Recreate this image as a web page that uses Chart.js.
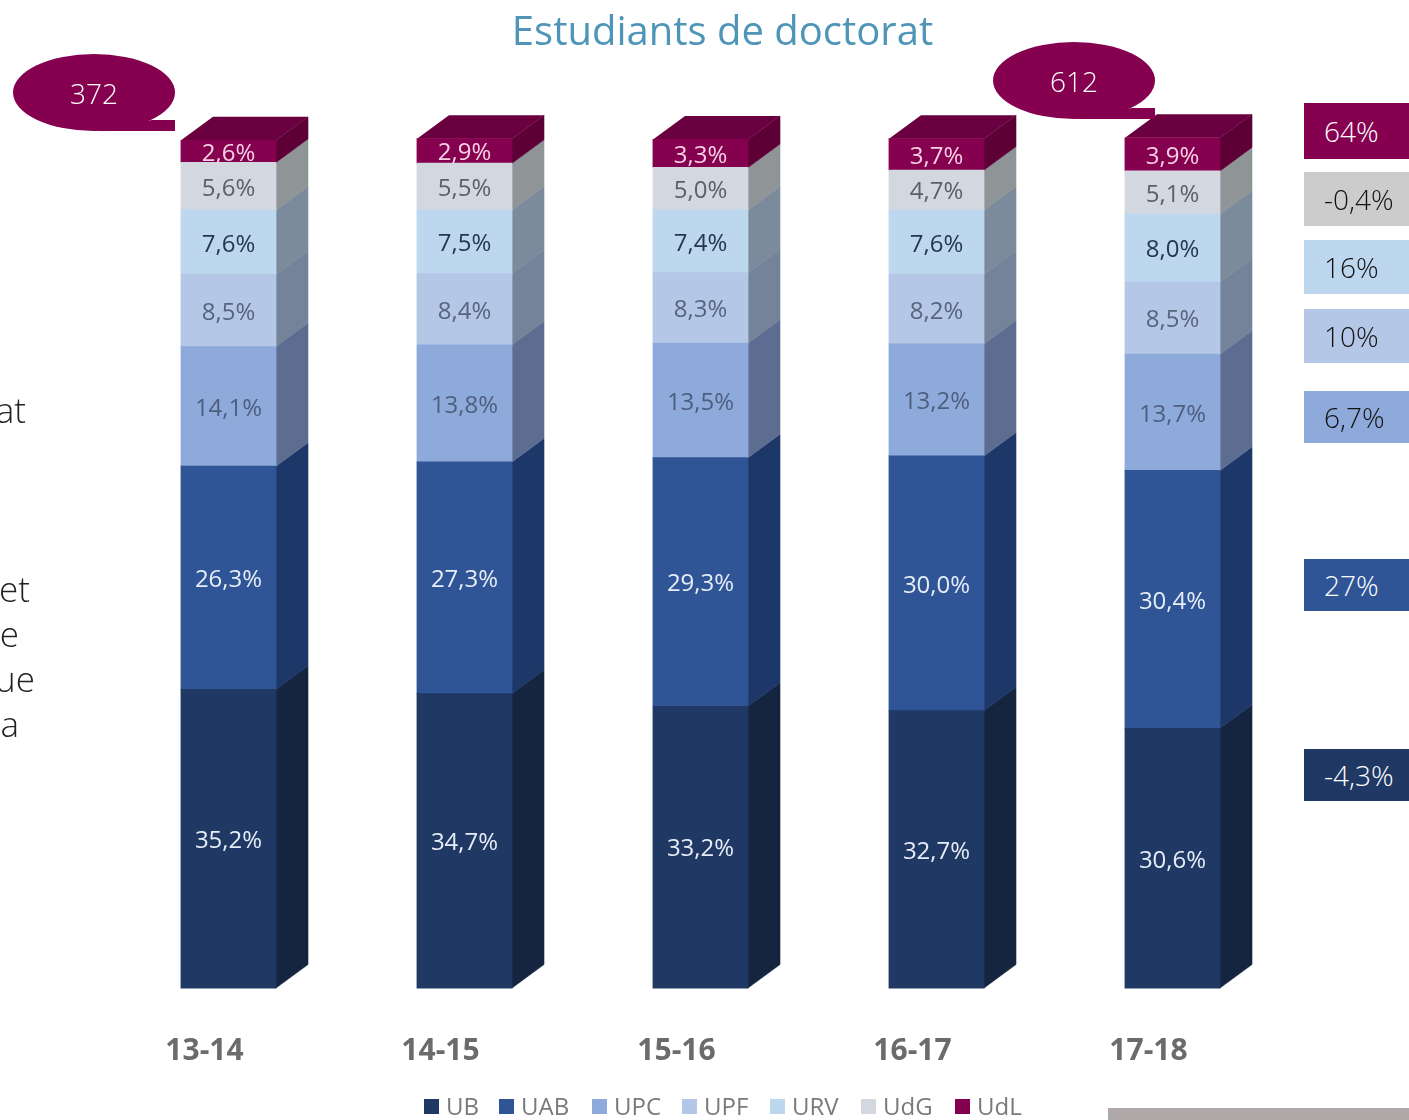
<!DOCTYPE html>
<html lang="ca">
<head>
<meta charset="utf-8">
<title>Estudiants de doctorat</title>
<script src="https://cdn.jsdelivr.net/npm/chart.js@4"></script>
<style>
  html, body { margin: 0; padding: 0; background: #fff; }
  body { position: relative; width: 1409px; height: 1120px; overflow: hidden; font-family: "Open Sans", sans-serif; }
  #chartBox { position: absolute; left: 0; top: 0; width: 1409px; height: 1120px; }
  .title { position: absolute; left: 0; width: 1445px; top: 2px; text-align: center; font-size: 40px; line-height: 56px; color: #4f95b7; }
  .bubble { position: absolute; width: 162px; height: 77px; }
  .bubble svg { position: absolute; left: 0; top: 0; }
  .bubble span { position: absolute; left: 0; width: 162px; top: 20px; text-align: center; font-size: 28px; font-weight: 300; line-height: 38px; color: #fff; }
  .badge { position: absolute; left: 1304px; width: 105px; font-size: 28px; font-weight: 300; color: #111; box-sizing: border-box; padding-left: 20px; }
  .side { position: absolute; font-size: 35px; line-height: 44px; color: #222; font-weight: 300; white-space: nowrap; }
  #legend { position: absolute; top: 1090px; left: 0; height: 32px; }
  #legend div { position: absolute; top: 0; font-size: 24px; line-height: 32px; color: #7a7a7a; white-space: nowrap; }
  #legend i { position: absolute; top: 9px; width: 15px; height: 15px; }
  .footerBar { position: absolute; left: 1108px; top: 1108px; width: 301px; height: 12px; background: #afaaa9; }
</style>
</head>
<body>
<div id="chartBox"><canvas id="chart"></canvas></div>
<div class="title">Estudiants de doctorat</div>
<div id="bubbles"></div>
<div id="badges"></div>
<div id="sideText"></div>
<div id="legend"></div>
<div class="footerBar"></div>
<script>
// Data
const years = ['13-14', '14-15', '15-16', '16-17', '17-18'];
const ub = [35.2, 34.7, 33.2, 32.7, 30.6];
const uab = [26.3, 27.3, 29.3, 30.0, 30.4];
const upc = [14.1, 13.8, 13.5, 13.2, 13.7];
const upf = [8.5, 8.4, 8.3, 8.2, 8.5];
const urv = [7.6, 7.5, 7.4, 7.6, 8.0];
const udg = [5.6, 5.5, 5.0, 4.7, 5.1];
const udl = [2.6, 2.9, 3.3, 3.7, 3.9];

const universities = ['UB', 'UAB', 'UPC', 'UPF', 'URV', 'UdG', 'UdL'];
const seriesValues = [ub, uab, upc, upf, urv, udg, udl];
const frontColors = ['#203864', '#2f5597', '#8eaadb', '#b4c7e7', '#bdd7ee', '#d3d8e0', '#85004f'];
const sideColors = ['#152540', '#1d3868', '#5c6d91', '#748399', '#7c8b9b', '#8f9497', '#5c0036'];
const labelColors = ['#e6edf7', '#e6edf7', '#4d5f7e', '#56657c', '#26384c', '#5b6068', '#f7cfe3'];

const changes = ['64%', '-0,4%', '16%', '10%', '6,7%', '27%', '-4,3%'];
const changeColors = ['#85004f', '#cdcccc', '#bdd7ee', '#b4c7e7', '#8eaadb', '#2f5597', '#203864'];
const changeTextColors = ['#fff', '#111', '#111', '#111', '#111', '#fff', '#fff'];
const changeTops = [103, 172, 240, 309, 391, 559, 749];
const changeHeights = [56, 54, 54, 54, 52, 52, 52];

const totals = [{ text: '372', left: 13, top: 54 }, { text: '612', left: 993, top: 42 }];
const sideFragments = [
  { text: 'at', right: 26, top: 388 },
  { text: 'et', right: 30, top: 567 },
  { text: 'e', right: 19, top: 612 },
  { text: 'ue', right: 35, top: 657 },
  { text: 'a', right: 19, top: 702 }
];
const legendBoxes = [424, 499, 592, 682, 770, 861, 955];

const DEPTH_X = 32;
const DEPTH_Y = 23.5;

function formatPct(v) {
  return v.toFixed(1).replace('.', ',') + '%';
}

// Right faces and top of the blocks, drawn behind the fronts
const depthPlugin = {
  id: 'depth',
  beforeDatasetsDraw(chart) {
    const ctx = chart.ctx;
    ctx.save();
    ctx.lineWidth = 0.6;
    chart.data.datasets.forEach((ds, d) => {
      chart.getDatasetMeta(d).data.forEach(bar => {
        const right = bar.x + bar.width / 2;
        const left = bar.x - bar.width / 2;
        ctx.fillStyle = sideColors[d];
        ctx.strokeStyle = sideColors[d];
        ctx.beginPath();
        ctx.moveTo(right, bar.base);
        ctx.lineTo(right + DEPTH_X, bar.base - DEPTH_Y);
        ctx.lineTo(right + DEPTH_X, bar.y - DEPTH_Y);
        ctx.lineTo(right, bar.y);
        ctx.closePath();
        ctx.fill();
        ctx.stroke();
        if (d === chart.data.datasets.length - 1) {
          ctx.fillStyle = '#6a003f';
          ctx.beginPath();
          ctx.moveTo(left, bar.y);
          ctx.lineTo(left + DEPTH_X, bar.y - DEPTH_Y);
          ctx.lineTo(right + DEPTH_X, bar.y - DEPTH_Y);
          ctx.lineTo(right, bar.y);
          ctx.closePath();
          ctx.fill();
        }
      });
    });
    ctx.restore();
  }
};

// Percent labels centred on each segment
const segmentLabels = {
  id: 'segmentLabels',
  afterDatasetsDraw(chart) {
    const ctx = chart.ctx;
    ctx.save();
    ctx.font = '24px "Open Sans", sans-serif';
    ctx.textAlign = 'center';
    ctx.textBaseline = 'middle';
    chart.data.datasets.forEach((ds, d) => {
      ctx.fillStyle = labelColors[d];
      chart.getDatasetMeta(d).data.forEach((bar, i) => {
        ctx.fillText(formatPct(ds.data[i]), bar.x, (bar.y + bar.base) / 2 + 2.5);
      });
    });
    ctx.restore();
  }
};

function initChart() {
  new Chart(document.getElementById('chart'), {
    type: 'bar',
    data: {
      labels: years,
      datasets: universities.map((name, d) => ({
        label: name,
        data: seriesValues[d],
        backgroundColor: frontColors[d],
        borderWidth: 0,
        inflateAmount: 0.4,
        categoryPercentage: 1,
        barPercentage: 95 / 236,
        clip: false
      }))
    },
    options: {
      responsive: true,
      maintainAspectRatio: false,
      animation: false,
      layout: { padding: { left: 110.5, right: 118.5, top: 139.5, bottom: 0 } },
      plugins: { legend: { display: false }, title: { display: false }, tooltip: { enabled: false } },
      scales: {
        x: {
          stacked: true,
          afterFit: scale => { scale.height = 132; },
          grid: { display: false },
          border: { display: false },
          ticks: {
            color: '#6b6b6b',
            font: { family: '"Open Sans", sans-serif', size: 30, weight: '700' },
            padding: 37,
            labelOffset: -24,
            maxRotation: 0
          }
        },
        y: { stacked: true, display: false, min: 0, max: 100 }
      }
    },
    plugins: [depthPlugin, segmentLabels]
  });
}

function buildBubbles() {
  const host = document.getElementById('bubbles');
  totals.forEach(t => {
    const el = document.createElement('div');
    el.className = 'bubble';
    el.style.left = t.left + 'px';
    el.style.top = t.top + 'px';
    el.innerHTML = '<svg width="162" height="77"><ellipse cx="81" cy="38.5" rx="81" ry="38.5" fill="#85004f"/>' +
      '<polygon points="81,77 162,77 162,66 139,66" fill="#85004f"/></svg><span>' + t.text + '</span>';
    host.appendChild(el);
  });
}

function buildBadges() {
  const host = document.getElementById('badges');
  changes.forEach((c, i) => {
    const el = document.createElement('div');
    el.className = 'badge';
    el.textContent = c;
    el.style.top = changeTops[i] + 'px';
    el.style.height = changeHeights[i] + 'px';
    el.style.lineHeight = changeHeights[i] + 'px';
    el.style.background = changeColors[i];
    el.style.color = changeTextColors[i];
    host.appendChild(el);
  });
}

function buildSideText() {
  const host = document.getElementById('sideText');
  sideFragments.forEach(f => {
    const el = document.createElement('div');
    el.className = 'side';
    el.textContent = f.text;
    el.style.right = (1409 - f.right) + 'px';
    el.style.top = f.top + 'px';
    host.appendChild(el);
  });
}

function buildLegend() {
  const host = document.getElementById('legend');
  universities.forEach((name, d) => {
    const box = document.createElement('i');
    box.style.left = legendBoxes[d] + 'px';
    box.style.background = frontColors[d];
    host.appendChild(box);
    const label = document.createElement('div');
    label.textContent = name;
    label.style.left = (legendBoxes[d] + 22) + 'px';
    host.appendChild(label);
  });
}

initChart();
buildBubbles();
buildBadges();
buildSideText();
buildLegend();
</script>
</body>
</html>
